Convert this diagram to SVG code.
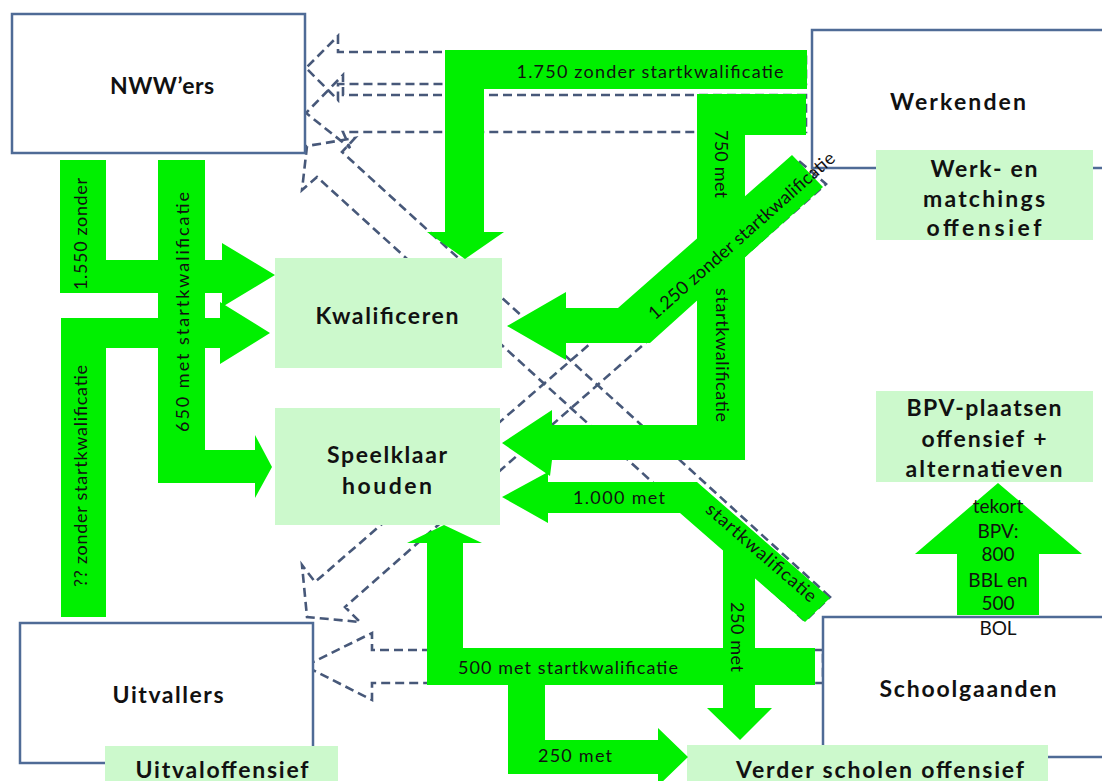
<svg xmlns="http://www.w3.org/2000/svg" width="1102" height="781" viewBox="0 0 1102 781">
<style>
.box{fill:#fff;stroke:#4f6b96;stroke-width:2.5}
.off{fill:#ccf9cc}
.flow{fill:#00f000}
.ret{fill:none;stroke:#475879;stroke-width:2.6;stroke-dasharray:9 5;stroke-linejoin:miter}
.lbl{font-family:Lato,"Open Sans",sans-serif;font-weight:bold;font-size:23px;fill:#111;text-anchor:middle;dominant-baseline:central}
.num{font-family:Lato,"Open Sans",sans-serif;font-size:18px;fill:#111;text-anchor:middle;dominant-baseline:central}
.bpv{font-size:19px}
</style>
<rect width="1102" height="781" fill="#fff"/>

<!-- dashed return flows (drawn beneath everything) -->
<g id="return-flows">
  <path class="ret" d="M806,52 L338,52 L338,36 L306,68 L338,100 L338,84 L806,84 Z"/>
  <path class="ret" d="M806,95 L343,95 L343,75 L306,113 L350,148 L343,132 L806,132 Z"/>
  <path class="ret" d="M830,597 L342,152 L355,138 L307,146 L302,190 L317,177 L805,621 Z"/>
  <path class="ret" d="M800,162 L315,582 L302,565 L307,617 L360,622 L345,607 L826,184 Z"/>
  <path class="ret" d="M823,650 L372,650 L372,633 L305,666 L372,700 L372,683 L823,683 Z"/>
</g>

<!-- target groups -->
<g id="nww">
  <rect class="box" x="12" y="14" width="293" height="139"/>
  <text class="lbl" x="162" y="85" textLength="104" lengthAdjust="spacing">NWW’ers</text>
</g>
<g id="werkenden">
  <rect class="box" x="812" y="30" width="300" height="138"/>
  <text class="lbl" x="958" y="101" textLength="136" lengthAdjust="spacing">Werkenden</text>
</g>
<g id="uitvallers">
  <rect class="box" x="20" y="623" width="293" height="140"/>
  <text class="lbl" x="168" y="694" textLength="111" lengthAdjust="spacing">Uitvallers</text>
</g>
<g id="schoolgaanden">
  <rect class="box" x="823" y="617" width="290" height="140"/>
  <text class="lbl" x="968" y="688" textLength="177" lengthAdjust="spacing">Schoolgaanden</text>
</g>

<!-- measures -->
<g id="werk-matching">
  <rect class="off" x="876" y="150" width="217" height="90"/>
  <text class="lbl" x="984" y="168" textLength="107" lengthAdjust="spacing">Werk- en</text>
  <text class="lbl" x="984" y="198" textLength="122" lengthAdjust="spacing">matchings</text>
  <text class="lbl" x="984" y="227" textLength="115" lengthAdjust="spacing">offensief</text>
</g>
<g id="kwalificeren">
  <rect class="off" x="275" y="258" width="227" height="110"/>
  <text class="lbl" x="387" y="315" textLength="143" lengthAdjust="spacing">Kwalificeren</text>
</g>
<g id="speelklaar">
  <rect class="off" x="275" y="408" width="225" height="117"/>
  <text class="lbl" x="387" y="454" textLength="120" lengthAdjust="spacing">Speelklaar</text>
  <text class="lbl" x="387" y="485" textLength="90" lengthAdjust="spacing">houden</text>
</g>
<g id="bpv">
  <rect class="off" x="876" y="391" width="217" height="91"/>
  <text class="lbl" x="984" y="407" textLength="155" lengthAdjust="spacing">BPV-plaatsen</text>
  <text class="lbl" x="984" y="438" textLength="125" lengthAdjust="spacing">offensief +</text>
  <text class="lbl" x="984" y="468" textLength="157" lengthAdjust="spacing">alternatieven</text>
</g>
<g id="uitvaloffensief">
  <rect class="off" x="105" y="746" width="233" height="40"/>
  <text class="lbl" x="222" y="769" textLength="173" lengthAdjust="spacing">Uitvaloffensief</text>
</g>
<g id="verder-scholen">
  <rect class="off" x="687" y="745" width="361" height="40"/>
  <text class="lbl" x="880" y="769" textLength="288" lengthAdjust="spacing">Verder scholen offensief</text>
</g>

<!-- main flows -->
<g id="connectors">
  <!-- werkenden -> kwalificeren -->
  <polygon class="flow" points="807,50 445,50 445,232 427,232 465,259 504,232 484,232 484,89 807,89"/>
  <!-- werkenden -> speelklaar houden -->
  <polygon class="flow" points="806,94 697,94 697,425 552,425 552,410 502,443 550,476 552,460 745,460 745,135 806,135"/>
  <!-- werkenden -> kwalificeren (diagonal) -->
  <polygon class="flow" points="507,326 566,292 566,308 618,308 792,155 823,187 650,343 566,343 566,360"/>
  <!-- schoolgaanden -> speelklaar houden -->
  <polygon class="flow" points="502,497 548,472 548,482 697,482 830,598 805,622 680,513 548,513 548,523"/>
  <!-- branch -> verder scholen -->
  <polygon class="flow" points="723,545 755,573 755,708 772,708 740,740 707,708 723,708"/>
  <!-- schoolgaanden -> speelklaar houden (bottom) -->
  <polygon class="flow" points="815,648 463,648 463,543 482,543 444,525 407,543 427,543 427,685 815,685"/>
  <!-- branch -> verder scholen (bottom) -->
  <polygon class="flow" points="508,683 545,683 545,740 658,740 658,728 688,757 658,786 658,774 508,774"/>
  <!-- nww -> kwalificeren -->
  <polygon class="flow" points="60,160 106,160 106,260 222,260 222,243 275,275 222,307 222,293 60,293"/>
  <!-- uitvallers -> kwalificeren -->
  <polygon class="flow" points="61,617 61,318 220,318 220,302 270,333 220,364 220,348 106,348 106,617"/>
  <!-- nww -> speelklaar houden -->
  <polygon class="flow" points="158,160 205,160 205,450 255,450 255,435 272,467 255,498 255,483 158,483"/>
  <!-- bpv shortage -->
  <polygon class="flow" points="957,615 957,554 915,554 998,483 1082,554 1039,554 1039,615"/>

  <text class="num" x="650" y="71" textLength="267" lengthAdjust="spacing">1.750 zonder startkwalificatie</text>
  <text class="num" transform="translate(722,164) rotate(90)" textLength="68" lengthAdjust="spacing">750 met</text>
  <text class="num" transform="translate(723,355) rotate(90)" textLength="134" lengthAdjust="spacing">startkwalificatie</text>
  <text class="num" transform="translate(741,235) rotate(-41.5)" textLength="242" lengthAdjust="spacing">1.250 zonder startkwalificatie</text>
  <text class="num" x="619" y="497" textLength="92" lengthAdjust="spacing">1.000 met</text>
  <text class="num" transform="translate(762,552) rotate(41)" textLength="140" lengthAdjust="spacing">startkwalificatie</text>
  <text class="num" transform="translate(738,637) rotate(90)" textLength="70" lengthAdjust="spacing">250 met</text>
  <text class="num" x="568" y="667" textLength="220" lengthAdjust="spacing">500 met startkwalificatie</text>
  <text class="num" x="575" y="755" textLength="74" lengthAdjust="spacing">250 met</text>
  <text class="num" transform="translate(80,234) rotate(-90)" textLength="112" lengthAdjust="spacing">1.550 zonder</text>
  <text class="num" transform="translate(182,312) rotate(-90)" textLength="240" lengthAdjust="spacing">650 met startkwalificatie</text>
  <text class="num" transform="translate(80,476) rotate(-90)" textLength="222" lengthAdjust="spacing">?? zonder startkwalificatie</text>

  <text class="num bpv" x="998" y="505">tekort</text>
  <text class="num bpv" x="998" y="530">BPV:</text>
  <text class="num bpv" x="998" y="553">800</text>
  <text class="num bpv" x="998" y="579">BBL en</text>
  <text class="num bpv" x="998" y="602">500</text>
  <text class="num bpv" x="998" y="627">BOL</text>
</g>
</svg>
